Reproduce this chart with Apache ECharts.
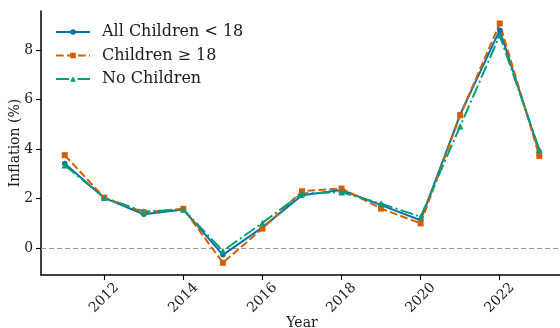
<!DOCTYPE html>
<html>
<head>
<meta charset="utf-8">
<script src="https://cdn.jsdelivr.net/npm/echarts@6/dist/echarts.min.js"></script>
<style>
  html, body { margin: 0; padding: 0; background: #ffffff; }
  #chart { width: 560px; height: 328px; }
</style>
</head>
<body>
<div id="chart"></div>
<script>
// Annual inflation (%) by household type
const years = [2011, 2012, 2013, 2014, 2015, 2016, 2017, 2018, 2019, 2020, 2021, 2022, 2023];
const allChildrenUnder18 = [3.42, 2.03, 1.37, 1.56, -0.27, 0.84, 2.14, 2.35, 1.74, 1.13, 5.40, 8.81, 3.89];
const childrenOver18 = [3.76, 2.04, 1.45, 1.59, -0.59, 0.79, 2.30, 2.41, 1.60, 1.00, 5.37, 9.08, 3.73];
const noChildren = [3.35, 2.04, 1.48, 1.56, -0.11, 1.02, 2.21, 2.26, 1.80, 1.27, 4.93, 8.60, 3.99];
const xTicks = [2012, 2014, 2016, 2018, 2020, 2022];
const yTicks = [0, 2, 4, 6, 8];

const FONT = 'DejaVu Serif';
const pairs = (vals) => years.map((y, i) => [y, vals[i]]);

const chart = echarts.init(document.getElementById('chart'), null, { renderer: 'canvas' });

chart.setOption({
  animation: false,
  textStyle: { fontFamily: FONT },
  grid: { left: 41, top: 11, width: 522, bottom: 53, containLabel: false, outerBoundsMode: 'none' },
  legend: {
    orient: 'vertical',
    left: 55,
    top: 24,
    padding: 0,
    itemWidth: 34,
    itemHeight: 7,
    itemGap: 7.5,
    textStyle: { fontFamily: FONT, fontSize: 16, color: '#1a1a1a', padding: [0, 0, 0, 7] },
    data: ['All Children < 18', 'Children \u2265 18', 'No Children']
  },
  xAxis: {
    type: 'value',
    min: 2010.4,
    max: 2023.6,
    name: 'Year',
    nameLocation: 'middle',
    nameGap: 41,
    nameMoveOverlap: false,
    nameTextStyle: { fontFamily: FONT, fontSize: 14, color: '#1a1a1a' },
    splitLine: { show: false },
    axisLine: { show: true, onZero: false, lineStyle: { color: '#000', width: 1.5 } },
    axisTick: { show: true, customValues: xTicks, length: 5, lineStyle: { color: '#000', width: 1.1 } },
    axisLabel: {
      customValues: xTicks,
      rotate: 45,
      align: 'center',
      verticalAlign: 'middle',
      margin: 23,
      fontFamily: FONT,
      fontSize: 13.9,
      color: '#1a1a1a',
      formatter: (v) => String(v)
    }
  },
  yAxis: {
    type: 'value',
    min: -1.085,
    max: 9.585,
    name: 'Inflation (%)',
    nameLocation: 'middle',
    nameGap: 19,
    nameMoveOverlap: false,
    nameTextStyle: { fontFamily: FONT, fontSize: 14, color: '#1a1a1a' },
    splitLine: { show: false },
    axisLine: { show: true, onZero: false, lineStyle: { color: '#000', width: 1.5 } },
    axisTick: { show: true, customValues: yTicks, length: 5, lineStyle: { color: '#000', width: 1.1 } },
    axisLabel: {
      customValues: yTicks,
      margin: 8,
      fontFamily: FONT,
      fontSize: 13.9,
      color: '#1a1a1a'
    }
  },
  series: [
    {
      name: 'All Children < 18',
      type: 'line',
      data: pairs(allChildrenUnder18),
      symbol: 'circle',
      symbolSize: 5.5,
      color: '#0072B2',
      lineStyle: { width: 2, type: 'solid' },
      itemStyle: { color: '#0072B2' },
      markLine: {
        silent: true,
        symbol: ['none', 'none'],
        label: { show: false },
        lineStyle: { color: '#999999', type: [5, 3], width: 1.1 },
        data: [{ yAxis: 0 }],
        z: 1
      }
    },
    {
      name: 'Children \u2265 18',
      type: 'line',
      data: pairs(childrenOver18),
      symbol: 'rect',
      symbolSize: 6,
      color: '#D55E00',
      lineStyle: { width: 2, type: [7.7, 3.3] },
      itemStyle: { color: '#D55E00' }
    },
    {
      name: 'No Children',
      type: 'line',
      data: pairs(noChildren),
      symbol: 'triangle',
      symbolSize: 6.5,
      color: '#009E73',
      lineStyle: { width: 2, type: [13, 3.3, 2, 3.3] },
      itemStyle: { color: '#009E73' }
    }
  ]
});
</script>
</body>
</html>
